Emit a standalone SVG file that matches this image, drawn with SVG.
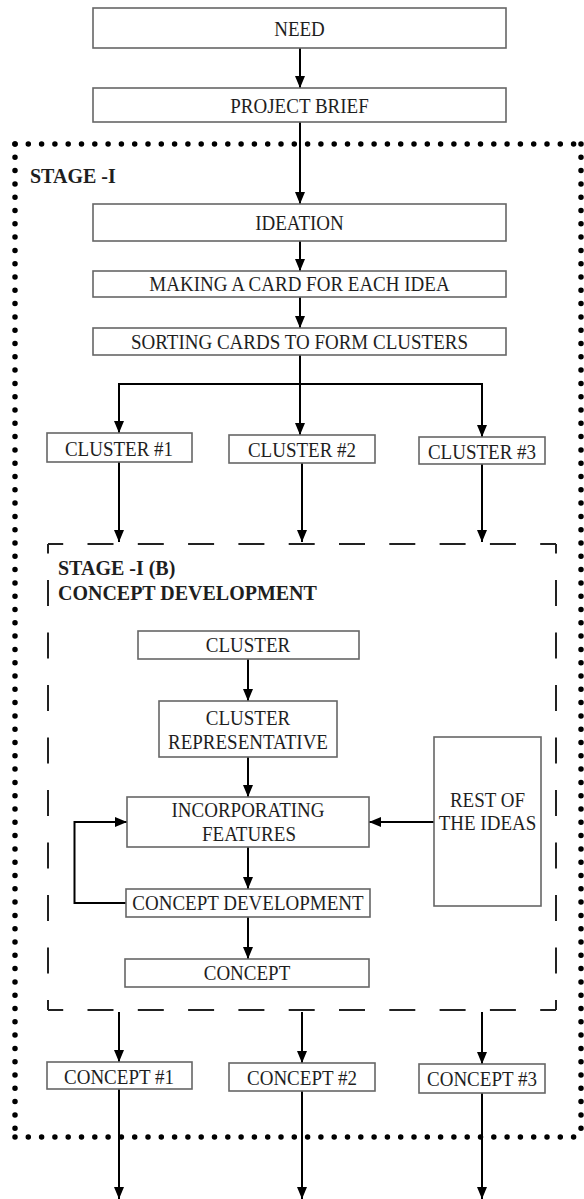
<svg xmlns="http://www.w3.org/2000/svg" width="584" height="1199" viewBox="0 0 584 1199">
<defs>
<marker id="ah" viewBox="0 0 12 10" refX="12" refY="5" markerWidth="12" markerHeight="10" markerUnits="userSpaceOnUse" orient="auto">
<path d="M0,0 L12,5 L0,10 z" fill="#000"/>
</marker>
<style>
.box{fill:#fff;stroke:#666;stroke-width:1.6}
.t{font-family:"Liberation Serif","Times New Roman",serif;font-size:19px;fill:#1e1e1e;text-anchor:middle;transform-box:fill-box;transform-origin:center;transform:scaleY(1.1)}
.b{font-family:"Liberation Serif","Times New Roman",serif;font-size:20px;font-weight:bold;fill:#1e1e1e;transform-box:fill-box;transform-origin:center;transform:scaleY(1.08)}
.c{fill:none;stroke:#000;stroke-width:2}
.a{marker-end:url(#ah)}
.dot{fill:none;stroke:#000;stroke-width:5.5;stroke-linecap:round;stroke-dasharray:0 13.3}
.dh{fill:none;stroke:#222;stroke-width:2;stroke-dasharray:26 24.3;stroke-dashoffset:10.8}
.dv{fill:none;stroke:#222;stroke-width:2;stroke-dasharray:26 26.5;stroke-dashoffset:16.5}
</style>
</defs>
<rect width="584" height="1199" fill="#fff"/>

<g id="stage1-frame">
<line class="dot" x1="15" y1="144" x2="581" y2="144"/>
<line class="dot" x1="15" y1="1137" x2="581" y2="1137"/>
<line class="dot" x1="15" y1="144" x2="15" y2="1137"/>
<line class="dot" x1="581" y1="144" x2="581" y2="1137"/>
<text class="b" x="30" y="182">STAGE -I</text>
</g>

<g id="stage1b-frame">
<line class="dh" x1="48" y1="544" x2="556" y2="544"/>
<line class="dh" x1="48" y1="1010" x2="556" y2="1010"/>
<line class="dv" x1="48" y1="544" x2="48" y2="1010"/>
<line class="dv" x1="556" y1="544" x2="556" y2="1010"/>
<text class="b" x="58" y="574">STAGE -I (B)</text>
<text class="b" x="58" y="599">CONCEPT DEVELOPMENT</text>
</g>

<g id="connectors">
<line class="c a" x1="300" y1="48" x2="300" y2="88"/>
<line class="c a" x1="300" y1="122" x2="300" y2="204"/>
<line class="c a" x1="300" y1="241" x2="300" y2="271"/>
<line class="c a" x1="300" y1="297" x2="300" y2="328"/>
<line class="c" x1="300" y1="355" x2="300" y2="384"/>
<polyline class="c a" points="300,384 119,384 119,433"/>
<polyline class="c a" points="300,384 482,384 482,437"/>
<line class="c a" x1="300" y1="384" x2="300" y2="435"/>
<line class="c a" x1="119" y1="462" x2="119" y2="542"/>
<line class="c a" x1="302" y1="463" x2="302" y2="542"/>
<line class="c a" x1="482" y1="464" x2="482" y2="542"/>
<line class="c a" x1="248" y1="659" x2="248" y2="701"/>
<line class="c a" x1="248" y1="757" x2="248" y2="797"/>
<line class="c a" x1="248" y1="847" x2="248" y2="889"/>
<line class="c a" x1="434" y1="822" x2="369" y2="822"/>
<polyline class="c a" points="126,903 74.5,903 74.5,822 127,822"/>
<line class="c a" x1="248" y1="917" x2="248" y2="959"/>
<line class="c a" x1="119" y1="1012" x2="119" y2="1062"/>
<line class="c a" x1="302" y1="1012" x2="302" y2="1063"/>
<line class="c a" x1="482" y1="1012" x2="482" y2="1064"/>
<line class="c a" x1="119" y1="1089" x2="119" y2="1199"/>
<line class="c a" x1="302" y1="1091" x2="302" y2="1199"/>
<line class="c a" x1="482" y1="1093" x2="482" y2="1199"/>
</g>

<g id="need"><rect class="box" x="93" y="8" width="413" height="40"/><text class="t" x="299.5" y="35">NEED</text></g>
<g id="project-brief"><rect class="box" x="93" y="88" width="413" height="34"/><text class="t" x="299.5" y="112">PROJECT BRIEF</text></g>
<g id="ideation"><rect class="box" x="93" y="204" width="413" height="37"/><text class="t" x="299.5" y="229">IDEATION</text></g>
<g id="making-card"><rect class="box" x="93" y="271" width="413" height="26"/><text class="t" x="299.5" y="290">MAKING A CARD FOR EACH IDEA</text></g>
<g id="sorting"><rect class="box" x="93" y="328" width="413" height="27"/><text class="t" x="299.5" y="348">SORTING CARDS  TO FORM CLUSTERS</text></g>

<g id="cluster1"><rect class="box" x="47" y="433" width="145" height="29"/><text class="t" x="119" y="455">CLUSTER #1</text></g>
<g id="cluster2"><rect class="box" x="229" y="435" width="146" height="28"/><text class="t" x="302" y="456">CLUSTER #2</text></g>
<g id="cluster3"><rect class="box" x="419" y="437" width="126" height="27"/><text class="t" x="482" y="458">CLUSTER #3</text></g>

<g id="cluster"><rect class="box" x="138" y="631" width="221" height="28"/><text class="t" x="248" y="651">CLUSTER</text></g>
<g id="cluster-representative"><rect class="box" x="159" y="701" width="178" height="56"/><text class="t" x="248" y="724">CLUSTER</text><text class="t" x="248" y="748">REPRESENTATIVE</text></g>
<g id="incorporating"><rect class="box" x="127" y="797" width="242" height="50"/><text class="t" x="248" y="816">INCORPORATING</text><text class="t" x="249" y="840">FEATURES</text></g>
<g id="rest-of-ideas"><rect class="box" x="434" y="737" width="107" height="169"/><text class="t" x="487.5" y="806">REST OF</text><text class="t" x="487.5" y="829">THE IDEAS</text></g>
<g id="concept-development"><rect class="box" x="126" y="889" width="244" height="28"/><text class="t" x="248" y="909">CONCEPT DEVELOPMENT</text></g>
<g id="concept"><rect class="box" x="125" y="959" width="244" height="28"/><text class="t" x="247" y="979">CONCEPT</text></g>

<g id="concept1"><rect class="box" x="47" y="1062" width="145" height="27"/><text class="t" x="119" y="1083">CONCEPT #1</text></g>
<g id="concept2"><rect class="box" x="229" y="1063" width="146" height="28"/><text class="t" x="302" y="1084">CONCEPT #2</text></g>
<g id="concept3"><rect class="box" x="419" y="1064" width="126" height="29"/><text class="t" x="482" y="1085">CONCEPT #3</text></g>
</svg>
